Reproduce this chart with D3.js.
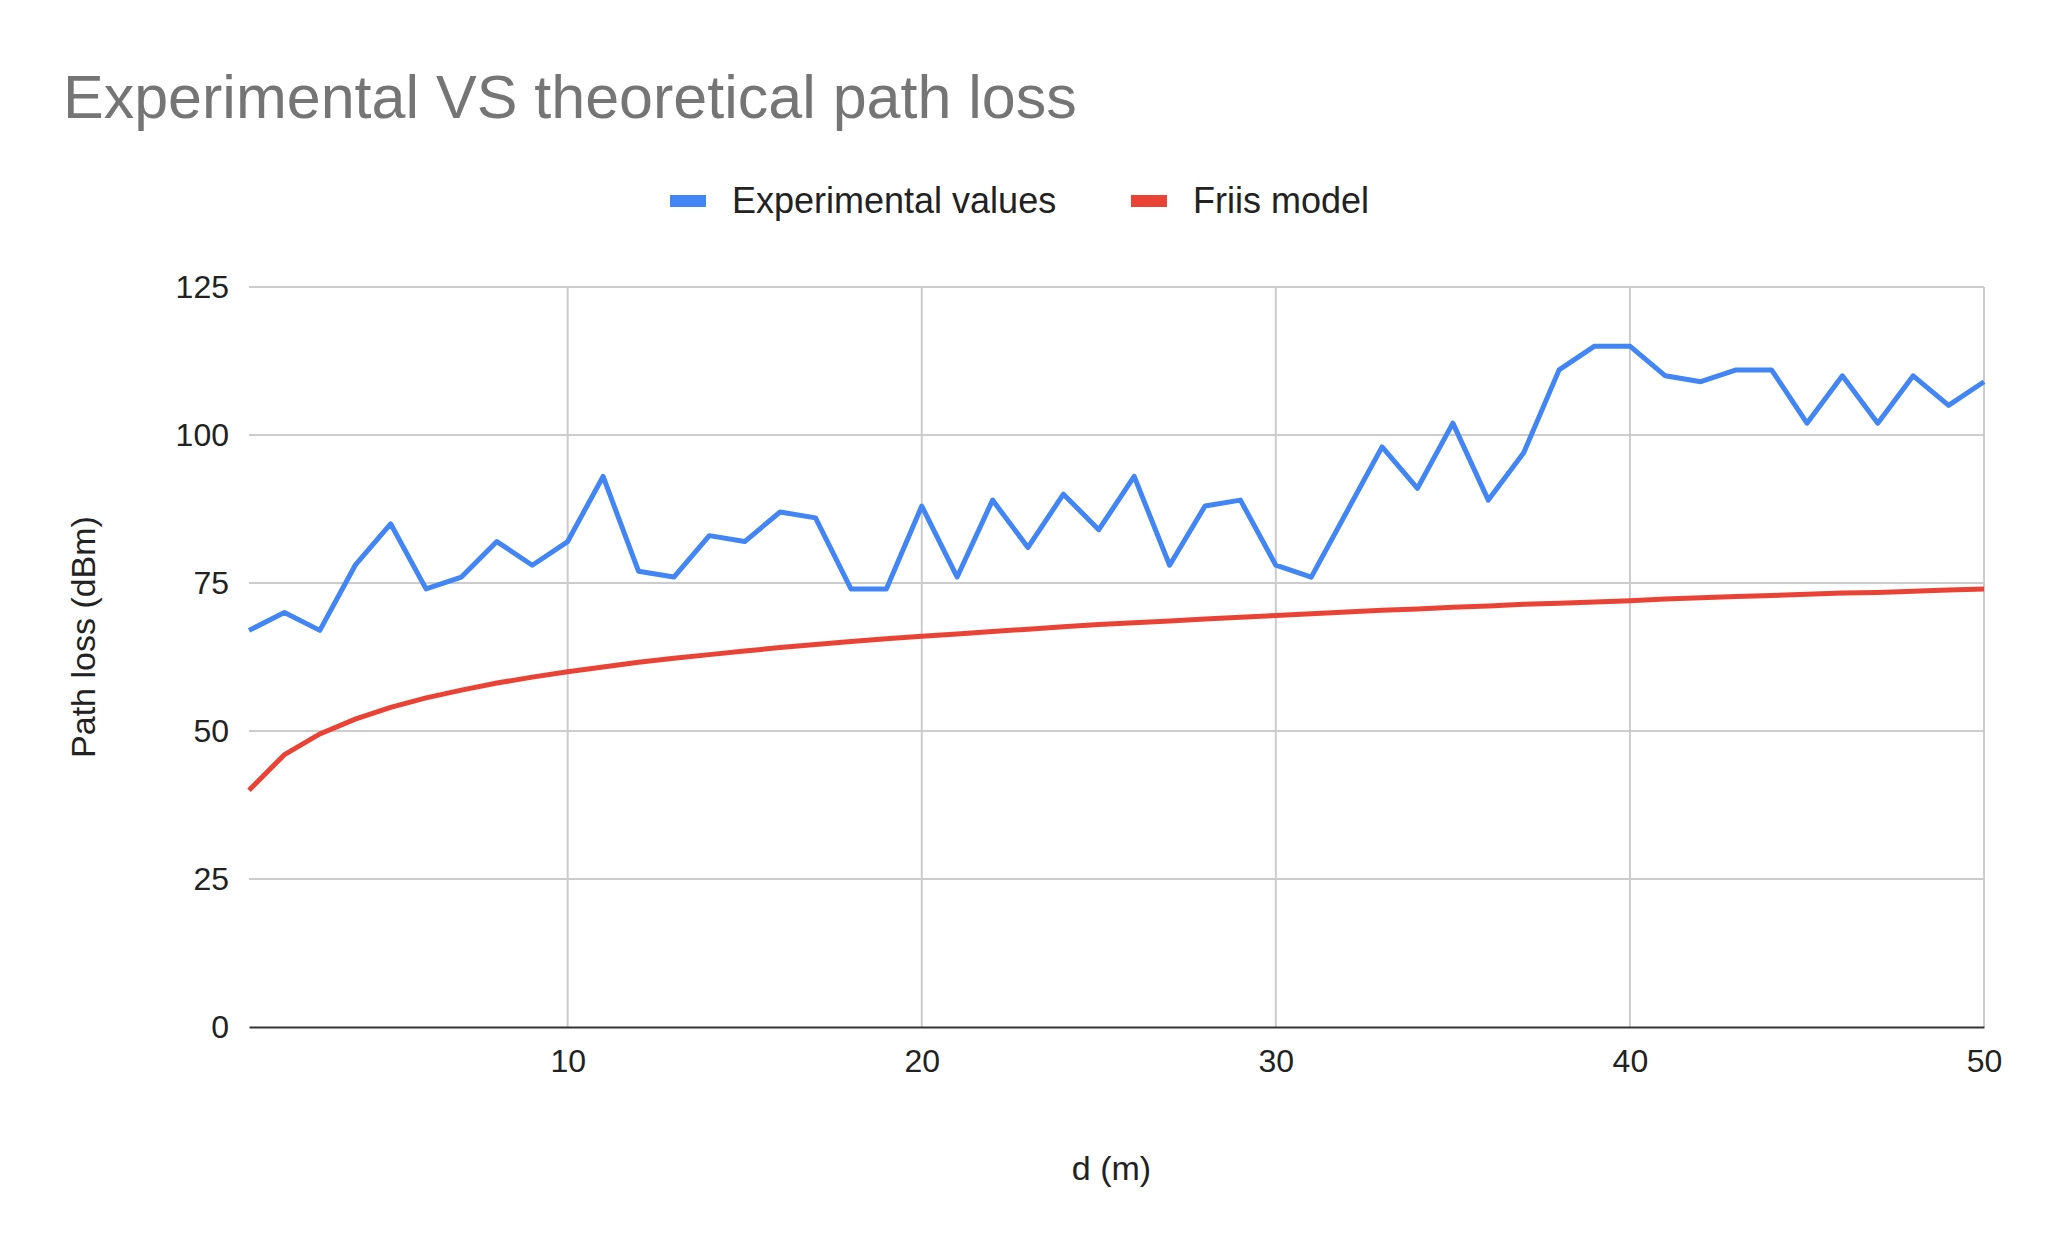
<!DOCTYPE html>
<html lang="en">
<head>
<meta charset="UTF-8">
<title>Experimental VS theoretical path loss</title>
<script src="https://d3js.org/d3.v7.min.js"></script>
<style>
  body { margin: 0; background: #fff; }
  text { font-family: Arial, "Liberation Sans", sans-serif; }
</style>
</head>
<body>
<div id="plot"></div>
<script>
    let distances = d3.range(1, 51);
    let experimental = [67, 70, 67, 78, 85, 74, 76, 82, 78, 82,
                        93, 77, 76, 83, 82, 87, 86, 74, 74, 88,
                        76, 89, 81, 90, 84, 93, 78, 88, 89, 78,
                        76, 87, 98, 91, 102, 89, 97, 111, 115, 115,
                        110, 109, 111, 111, 102, 110, 102, 110, 105, 109];
    let friis = [40, 46, 49.5, 52, 54, 55.6, 56.9, 58.1, 59.1, 60,
                 60.8, 61.6, 62.3, 62.9, 63.5, 64.1, 64.6, 65.1, 65.6, 66,
                 66.4, 66.8, 67.2, 67.6, 68, 68.3, 68.6, 68.9, 69.2, 69.5,
                 69.8, 70.1, 70.4, 70.6, 70.9, 71.1, 71.4, 71.6, 71.8, 72,
                 72.3, 72.5, 72.7, 72.9, 73.1, 73.3, 73.4, 73.6, 73.8, 74];
    let xTicks = [10, 20, 30, 40, 50];
    let yTicks = [0, 25, 50, 75, 100, 125];

    let svgWidth = 2047, svgHeight = 1253;
    let margin = {top: 287, right: 63, bottom: 226, left: 249};
    let width = svgWidth - margin.left - margin.right;
    let height = svgHeight - margin.top - margin.bottom;

    let svg = d3.select('#plot').append('svg')
        .attr('width', svgWidth).attr('height', svgHeight);

    svg.append('text').attr('x', 63).attr('y', 118)
        .attr('font-size', 61).attr('fill', '#757575')
        .text('Experimental VS theoretical path loss');

    // legend
    let legend = [
        {name: 'Experimental values', color: '#4285f4', x: 670},
        {name: 'Friis model', color: '#ea4335', x: 1131}
    ];
    legend.forEach(l => {
        svg.append('rect').attr('x', l.x).attr('y', 195).attr('width', 36).attr('height', 12).attr('fill', l.color);
        svg.append('text').attr('x', l.x + 62).attr('y', 213)
            .attr('font-size', 36).attr('fill', '#222').text(l.name);
    });

    let g = svg.append('g').attr('transform', `translate(${margin.left},${margin.top})`);
    let x = d3.scaleLinear().domain([1, 50]).range([0, width]);
    let y = d3.scaleLinear().domain([0, 125]).range([height, 0]);

    g.selectAll('.hgrid').data(yTicks.filter(t => t > 0)).enter().append('line')
        .attr('x1', 0).attr('x2', width)
        .attr('y1', d => y(d)).attr('y2', d => y(d))
        .attr('stroke', '#cccccc').attr('stroke-width', 2);
    g.selectAll('.vgrid').data(xTicks).enter().append('line')
        .attr('x1', d => x(d)).attr('x2', d => x(d))
        .attr('y1', 0).attr('y2', height)
        .attr('stroke', '#cccccc').attr('stroke-width', 2);

    let xAxis = g.append('g').attr('transform', `translate(0,${height})`)
        .call(d3.axisBottom(x).tickValues(xTicks).tickSize(0).tickPadding(22));
    xAxis.select('.domain').attr('stroke', '#333').attr('stroke-width', 2);
    xAxis.selectAll('text').attr('font-size', 32).attr('fill', '#222');

    let yAxis = g.append('g')
        .call(d3.axisLeft(y).tickValues(yTicks).tickSize(0).tickPadding(20));
    yAxis.select('.domain').remove();
    yAxis.selectAll('text').attr('font-size', 32).attr('fill', '#222');

    let line = d3.line().x((d, i) => x(distances[i])).y(d => y(d));
    g.append('path').datum(friis).attr('d', line)
        .attr('fill', 'none').attr('stroke', '#ea4335').attr('stroke-width', 5);
    g.append('path').datum(experimental).attr('d', line)
        .attr('fill', 'none').attr('stroke', '#4285f4').attr('stroke-width', 5)
        .attr('stroke-linejoin', 'round');

    svg.append('text').attr('x', margin.left + width / 2 - 5).attr('y', 1180)
        .attr('text-anchor', 'middle').attr('font-size', 34).attr('fill', '#222')
        .text('d (m)');
    svg.append('text')
        .attr('transform', `translate(95,${margin.top + height / 2 - 20}) rotate(-90)`)
        .attr('text-anchor', 'middle').attr('font-size', 34).attr('fill', '#222')
        .text('Path loss (dBm)');
</script>
</body>
</html>
